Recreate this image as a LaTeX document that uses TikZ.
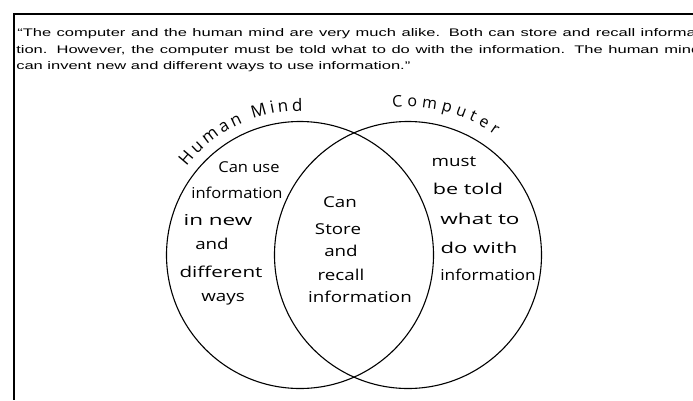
\documentclass[tikz,border=0pt]{standalone}
\usepackage{fontspec}
\setmainfont{Liberation Sans}
\newfontfamily\hand{Open Sans}
\usepackage{tikz}
\usetikzlibrary{positioning,decorations.text}

\begin{document}
\begin{tikzpicture}[x=1pt, y=-1pt]
        \tikzstyle{every node}=[inner sep=0pt]
        \tikzstyle{quote}=[anchor=west, xscale=1.5, font=\fontsize{11}{13}\selectfont]
        \tikzstyle{note}=[xscale=1.25, font=\hand\fontsize{15}{17}\selectfont]
        \tikzstyle{set}=[draw, circle, line width=1.1pt, minimum size=267pt]

        \useasboundingbox (0,0) rectangle (693,400);
        \clip (0,0) rectangle (693,400);

        % frame of the page
        \coordinate (tl) at (14,14);
        \coordinate (tr) at (693,14);
        \coordinate (bl) at (14,400);
        \draw[line width=2pt] (tr) -- (tl) -- (bl);

        % quoted text
        \node (q1) [quote] at (17,34) {\makebox[456pt][s]{``The computer and the human mind are very much alike. Both can store and recall informa-}};
        \node (q2) [quote] at (16,51) {\makebox[456pt][s]{tion. However, the computer must be told what to do with the information. The human mind}};
        \node (q3) [quote] at (16,67) {can invent new and different ways to use information.''};

        % the two sets
        \node (mind) [set] at (300,255) {};
        \node (comp) [set] at (408,255) {};

        \path[decorate, decoration={text along path, text align=fit to path,
            text={|\hand\fontsize{17}{19}\selectfont|Human Mind}}]
            (mind.center) ++(-142:144) arc (-142:-89:144);
        \path[decorate, decoration={text along path, text align=fit to path,
            text={|\hand\fontsize{16}{18}\selectfont|Computer}}]
            (comp.center) ++(-96:148) arc (-96:-54:148);

        % only in the mind
        \node (m1) [note, xscale=0.88] at (249,167) {Can use};
        \node (m2) [note, xscale=0.88] at (237,193) {information};
        \node (m3) [note, xscale=1.2] at (218,220) {in new};
        \node (m4) [note] at (212,244) {and};
        \node (m5) [note, xscale=1.1] at (221,272) {different};
        \node (m6) [note] at (223,299) {ways};

        % in both
        \node (b1) [note] at (340,202) {Can};
        \node (b2) [note] at (338,229) {Store};
        \node (b3) [note] at (341,251) {and};
        \node (b4) [note] at (341,275) {recall};
        \node (b5) [note] at (360,297) {information};

        % only in the computer
        \node (c1) [note] at (454,162) {must};
        \node (c2) [note, xscale=1.15] at (468,189) {be told};
        \node (c3) [note, xscale=1.2] at (480,219) {what to};
        \node (c4) [note, xscale=1.18] at (479,248) {do with};
        \node (c5) [note, xscale=0.92] at (488,275) {information};

    \end{tikzpicture}
\end{document}
